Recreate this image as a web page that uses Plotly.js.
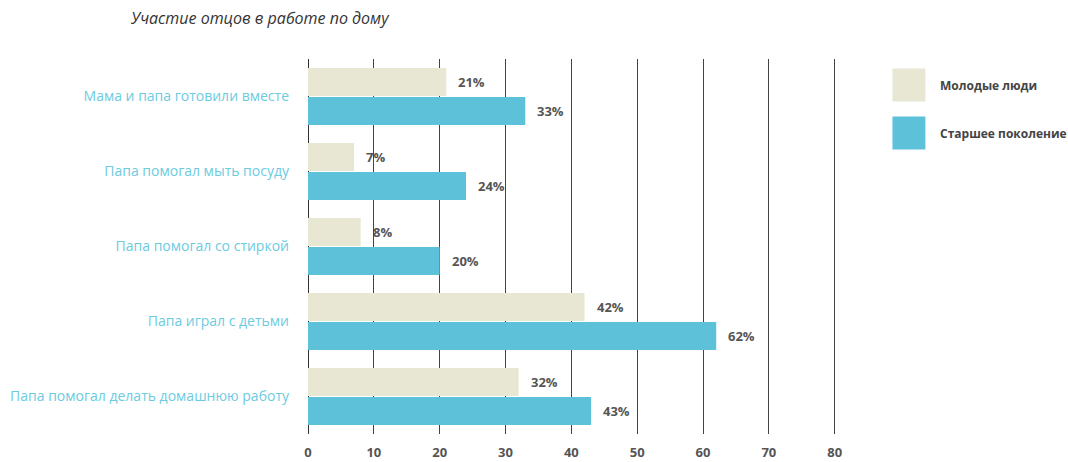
<!DOCTYPE html>
<html>
<head>
<meta charset="utf-8">
<script src="https://cdn.plot.ly/plotly-3.0.1.min.js"></script>
<style>
html,body{margin:0;padding:0;background:#fff;}
#chart{width:1068px;height:462px;}
</style>
</head>
<body>
<div id="chart"></div>
<script>
const categories = [
  "Мама и папа готовили вместе",
  "Папа помогал мыть посуду",
  "Папа помогал со стиркой",
  "Папа играл с детьми",
  "Папа помогал делать домашнюю работу"
];
const seriesNames = ["Молодые люди", "Старшее поколение"];
const youngValues = [21, 7, 8, 42, 32];
const olderValues = [33, 24, 20, 62, 43];
const xTicks = [0, 10, 20, 30, 40, 50, 60, 70, 80];
const titleText = "Участие отцов в работе по дому";

const colors = ["#e8e7d4", "#5cc1d9"];
const labelFont = {family: "Open Sans, sans-serif", size: 13, color: "#555", weight: 700};

const traces = [
  {type: "bar", orientation: "h", name: seriesNames[0], y: categories, x: youngValues,
   marker: {color: colors[0]}, hoverinfo: "x+y"},
  {type: "bar", orientation: "h", name: seriesNames[1], y: categories, x: olderValues,
   marker: {color: colors[1]}, hoverinfo: "x+y"}
];

// value labels next to bar ends
const annotations = [];
const slot = 0.773 / 2; // group width split between two series
[youngValues, olderValues].forEach((vals, s) => {
  vals.forEach((v, i) => {
    annotations.push({
      x: v, y: i + (s === 0 ? -1 : 1) * slot / 2, xref: "x", yref: "y",
      text: v + "%", showarrow: false, xanchor: "left", yanchor: "middle",
      xshift: 10, font: labelFont
    });
  });
});

// title
annotations.push({
  xref: "paper", yref: "paper", x: (128 - 308) / 530.5, y: (434 - 18) / 375, xanchor: "left", yanchor: "middle",
  text: "<i>" + titleText + "</i>", showarrow: false,
  font: {family: "Open Sans, sans-serif", size: 16, color: "#333"}
});

// custom legend
const shapes = [];
seriesNames.forEach((nm, s) => {
  const yc = s === 0 ? 85 : 133;
  shapes.push({type: "rect", xref: "paper", yref: "paper",
    x0: (893 - 308) / 530.5, x1: (926 - 308) / 530.5,
    y0: (434 - (yc + 16.5)) / 375, y1: (434 - (yc - 16.5)) / 375,
    fillcolor: colors[s], line: {width: 0}});
  annotations.push({xref: "paper", yref: "paper", x: (939 - 308) / 530.5, y: (434 - yc) / 375,
    xanchor: "left", yanchor: "middle", text: nm, showarrow: false,
    font: {family: "Open Sans, sans-serif", size: 12, color: "#444", weight: 700}});
});

const layout = {
  width: 1068, height: 462,
  margin: {l: 308, r: 229.5, t: 59, b: 28},
  paper_bgcolor: "#fff", plot_bgcolor: "#fff",
  barmode: "group", bargap: 0.227, bargroupgap: 0.035,
  showlegend: false,
  xaxis: {
    range: [0, 80.5], tickvals: xTicks, ticktext: xTicks.map(String),
    showgrid: true, gridcolor: "#444", gridwidth: 1,
    zeroline: true, zerolinecolor: "#333", zerolinewidth: 1,
    showline: false, ticks: "", ticklabelstandoff: 9,
    tickfont: {family: "Open Sans, sans-serif", size: 13, color: "#555", weight: 700},
    fixedrange: true
  },
  yaxis: {
    autorange: "reversed", showgrid: false, zeroline: false, showline: false,
    ticks: "", ticklabelstandoff: 18,
    tickfont: {family: "Open Sans, sans-serif", size: 14, color: "#6ccbe0"},
    fixedrange: true
  },
  annotations: annotations,
  shapes: shapes
};

Plotly.newPlot("chart", traces, layout, {displayModeBar: false, staticPlot: true});
</script>
</body>
</html>
